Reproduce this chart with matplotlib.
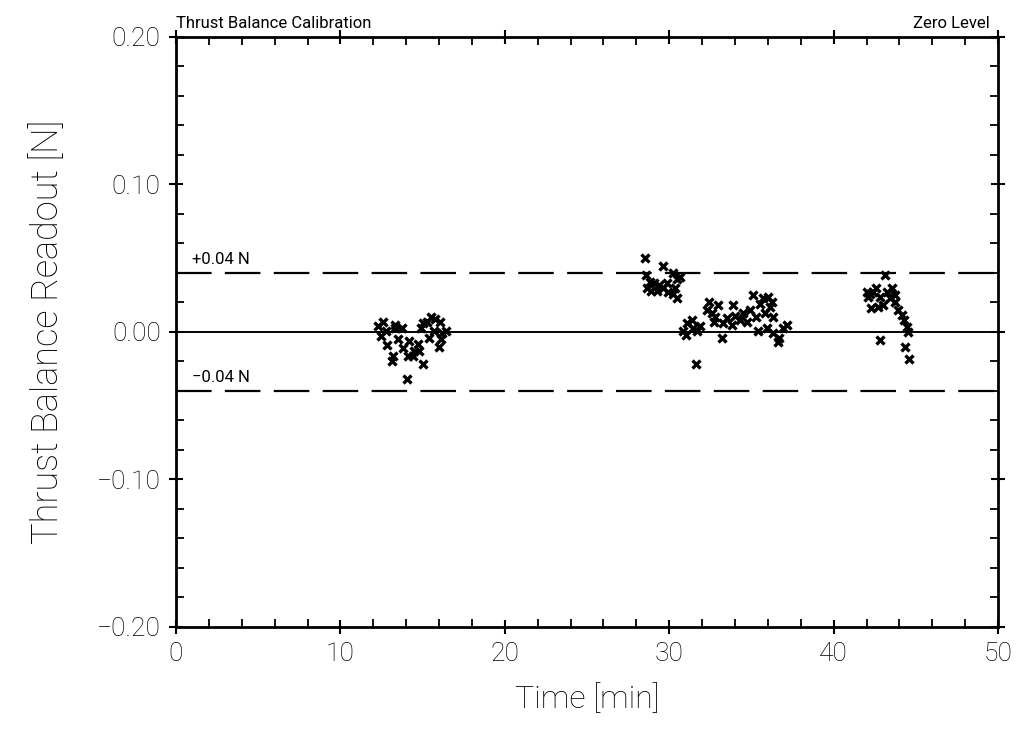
"""
Thrust balance calibration, zero level readout vs. time.
Values read off the scanned plot.
"""

import matplotlib
matplotlib.use("Agg")
import matplotlib.pyplot as plt
from matplotlib.ticker import MultipleLocator

plt.rcParams["font.family"] = ["Roboto", "DejaVu Sans"]

# ── data (time in min, readout in N) ─────────────────────────────────────────
t_run1 = [12.3, 12.6, 12.75, 12.45, 12.85, 13.2, 13.15, 13.35, 13.75, 13.5,
          13.8, 14.1, 14.05, 14.4, 14.5, 14.7, 14.75, 15.0, 15.0, 15.25,
          15.5, 15.75, 16.05, 16.15, 16.0, 16.45, 16.1, 15.7, 15.4, 14.2,
          13.3, 14.9]
v_run1 = [0.004, 0.007, 0.001, -0.003, -0.009, -0.016, -0.020, 0.005, 0.003, -0.005,
          -0.011, -0.016, -0.032, -0.016, -0.013, -0.008, -0.013, -0.022, 0.006, 0.007,
          0.010, 0.009, 0.007, -0.001, -0.010, 0.001, -0.005, 0.001, -0.004, -0.006,
          0.003, 0.003]

t_run2a = [28.5, 29.6, 28.6, 28.8, 28.65, 29.1, 29.25, 29.6, 29.9, 30.25,
           30.5, 30.65, 30.35, 30.5, 29.85, 28.9, 30.2, 29.4]
v_run2a = [0.050, 0.045, 0.0385, 0.034, 0.030, 0.033, 0.028, 0.030, 0.027, 0.040,
           0.036, 0.037, 0.030, 0.023, 0.033, 0.028, 0.026, 0.032]

t_run2b = [30.85, 31.1, 31.4, 31.45, 31.0, 31.7, 31.6, 32.4, 32.3, 32.6,
           32.95, 32.7, 33.2, 33.3, 33.5, 33.9, 34.0, 34.3, 34.5, 34.7,
           34.9, 35.1, 35.5, 35.7, 36.0, 36.1, 35.8, 35.3, 35.4, 35.95,
           36.3, 36.7, 36.9, 37.15, 36.6, 32.8, 33.8, 36.25, 36.3, 31.9]
v_run2b = [0.001, 0.006, 0.008, 0.003, -0.002, 0.001, -0.022, 0.020, 0.015, 0.013,
           0.018, 0.007, -0.004, 0.006, 0.0095, 0.018, 0.011, 0.008, 0.013, 0.007,
           0.015, 0.025, 0.019, 0.023, 0.024, 0.017, 0.013, 0.010, 0.001, 0.003,
           -0.001, -0.004, 0.003, 0.005, -0.007, 0.010, 0.005, 0.020, 0.010, 0.004]

t_run3 = [43.1, 42.2, 42.1, 42.4, 42.6, 42.3, 42.7, 43.0, 43.25, 43.55,
          43.4, 43.75, 43.75, 43.9, 44.15, 44.3, 44.45, 44.5, 42.8, 44.35,
          44.6, 42.8, 42.05]
v_run3 = [0.0385, 0.026, 0.024, 0.027, 0.030, 0.016, 0.017, 0.018, 0.027, 0.030,
          0.023, 0.025, 0.020, 0.015, 0.0115, 0.008, 0.0035, 0.000, -0.0055, -0.010,
          -0.018, 0.024, 0.027]

x_ticks = [0, 10, 20, 30, 40, 50]
y_ticks = [-0.20, -0.10, 0.0, 0.10, 0.20]
y_tick_labels = ["\u22120.20", "\u22120.10", "0.00", "0.10", "0.20"]
band = 0.04

fig = plt.figure(figsize=(10.18, 7.34), dpi=100)
ax = fig.add_axes([0.1729, 0.1458, 0.8075, 0.8038])

ax.axhline(0.0, color="black", lw=1.4)
for lvl in (band, -band):
    ax.axhline(lvl, color="black", lw=1.6, dashes=(16, 6))

for t, v in [(t_run1, v_run1), (t_run2a, v_run2a), (t_run2b, v_run2b), (t_run3, v_run3)]:
    ax.plot(t, v, ls="none", marker="x", ms=5.5, mew=2.4, color="black")

ax.text(1.0, band + 0.004, "+0.04 N", fontsize=12, va="bottom", ha="left")
ax.text(1.0, -band + 0.004, "\u22120.04 N", fontsize=12, va="bottom", ha="left")

ax.set_xlim(0, 50)
ax.set_ylim(-0.20, 0.20)
ax.set_xticks(x_ticks)
ax.set_xticklabels([str(x) for x in x_ticks], fontweight="light")
ax.set_yticks(y_ticks)
ax.set_yticklabels(y_tick_labels, fontweight="light")
ax.xaxis.set_minor_locator(MultipleLocator(2))
ax.yaxis.set_minor_locator(MultipleLocator(0.02))

ax.tick_params(which="major", direction="inout", length=10, width=1.5,
               labelsize=19, labelcolor="black", top=True, right=True, pad=6)
ax.tick_params(which="minor", direction="in", length=6, width=1.3,
               top=True, right=True)
for s in ax.spines.values():
    s.set_linewidth(2.0)

ax.set_xlabel("Time [min]", fontsize=23, fontweight="light", labelpad=12)
ax.set_ylabel("Thrust Balance Readout [N]", fontsize=26, fontweight="light",
              labelpad=22)

ax.text(0.0, 1.01, "Thrust Balance Calibration", transform=ax.transAxes,
        fontsize=12, ha="left", va="bottom")
ax.text(0.99, 1.01, "Zero Level", transform=ax.transAxes,
        fontsize=12, ha="right", va="bottom")

fig.savefig("out.png", dpi=100)
